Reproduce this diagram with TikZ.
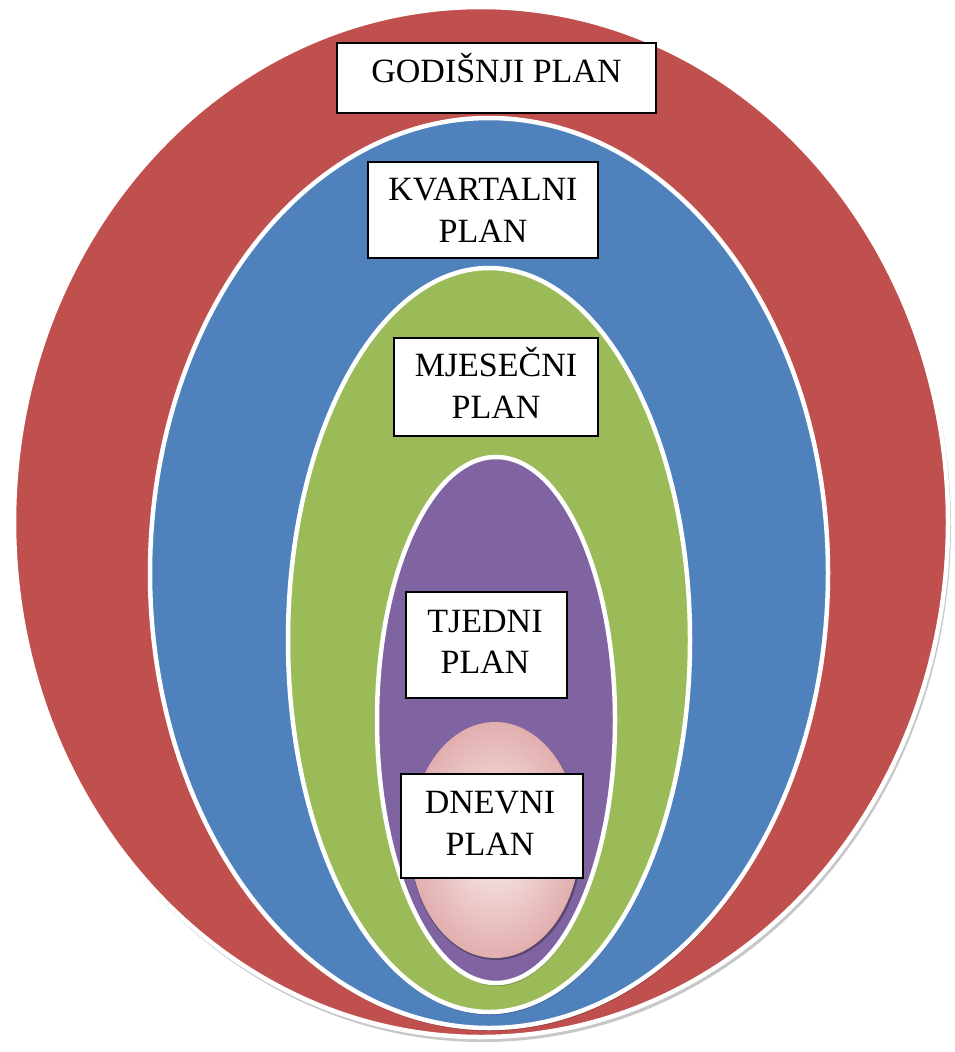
\documentclass[tikz,border=0pt]{standalone}
\usepackage{fontspec}
\setmainfont{Liberation Serif}
\begin{document}
\begin{tikzpicture}[x=1pt,y=-1pt,
  ring/.style={draw=white,line width=4.5pt},
  shadowring/.style={fill=black,opacity=0.22},
  planbox/.style={draw=black,line width=1.3pt,fill=white,inner sep=0pt},
  txt/.style={anchor=base,inner sep=0pt,font=\fontsize{34}{40}\selectfont}]
\definecolor{cred}{HTML}{C0504D}
\definecolor{cblue}{HTML}{4F81BD}
\definecolor{cgreen}{HTML}{9BBB59}
\definecolor{cpurple}{HTML}{8064A2}
\definecolor{cpinkin}{HTML}{FAF0F0}
\definecolor{cpinkout}{HTML}{E2AEAE}
\useasboundingbox (0,0) rectangle (955,1052);
% red
\fill[shadowring] (483,526) ellipse [x radius=468, y radius=516];
\filldraw[ring,fill=cred] (481,522) ellipse [x radius=467, y radius=515];
% blue
\fill[shadowring] (490,576) ellipse [x radius=339, y radius=455];
\filldraw[ring,fill=cblue] (489,573) ellipse [x radius=339, y radius=455];
% green
\fill[shadowring] (490,643) ellipse [x radius=201, y radius=372];
\filldraw[ring,fill=cgreen] (489,640) ellipse [x radius=201, y radius=372];
% purple
\fill[shadowring] (497,723) ellipse [x radius=119, y radius=263];
\filldraw[ring,fill=cpurple] (496,720) ellipse [x radius=119, y radius=263];
% pink
\fill[fill=black,opacity=0.3] (496,842) ellipse [x radius=86, y radius=118];
\shade[inner color=cpinkin,outer color=cpinkout] (495,840) ellipse [x radius=85, y radius=118];
% boxes
\node[planbox,minimum width=319pt,minimum height=70pt] (godbox) at (496.5,78) {};
\node[txt] (god) at (496.5,82) {GODIŠNJI PLAN};
\node[planbox,minimum width=230pt,minimum height=96pt] (kvbox) at (483,210) {};
\node[txt] (kv1) at (483,200) {KVARTALNI};
\node[txt] (kv2) at (483,242) {PLAN};
\node[planbox,minimum width=204pt,minimum height=98pt] (mjbox) at (496,387) {};
\node[txt] (mj1) at (496,376) {MJESEČNI};
\node[txt] (mj2) at (496,418) {PLAN};
\node[planbox,minimum width=161pt,minimum height=106pt] (tjbox) at (486.5,645) {};
\node[txt] (tj1) at (485,632) {TJEDNI};
\node[txt] (tj2) at (485,673) {PLAN};
\node[planbox,minimum width=182pt,minimum height=104pt] (dnbox) at (492,826) {};
\node[txt] (dn1) at (490,813) {DNEVNI};
\node[txt] (dn2) at (490,855) {PLAN};
\end{tikzpicture}
\end{document}
